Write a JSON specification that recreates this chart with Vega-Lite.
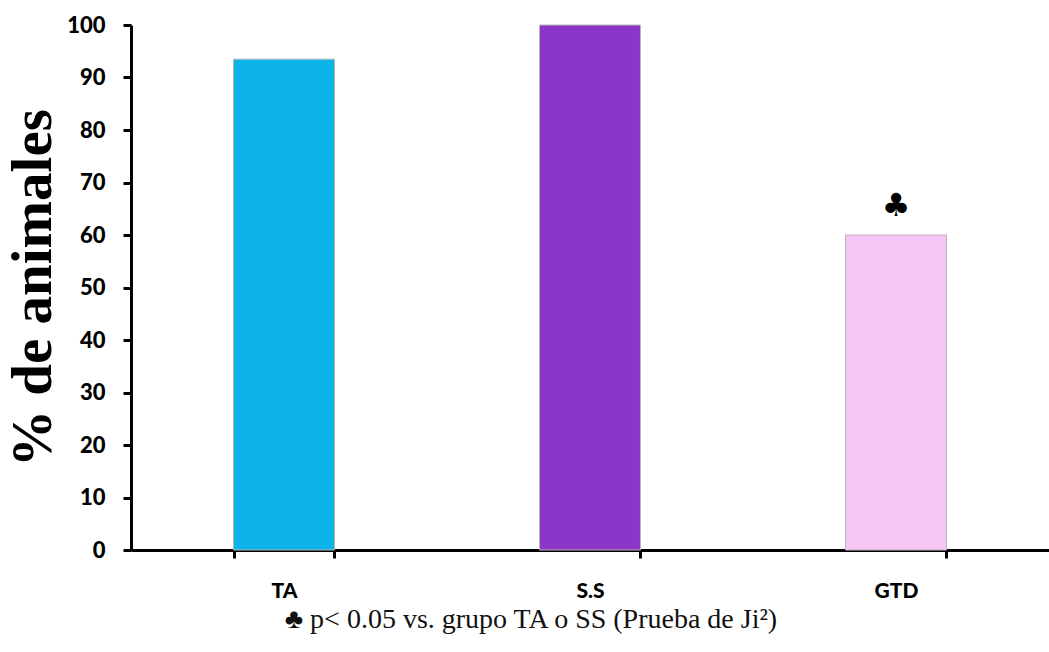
{
  "$schema": "https://vega.github.io/schema/vega-lite/v6.json",
  "width": 918,
  "height": 525,
  "autosize": {"type": "none"},
  "padding": {"left": 131, "top": 25, "right": 0, "bottom": 102},
  "background": "white",
  "config": {"view": {"stroke": null}},
  "title": {
    "text": "♣ p< 0.05 vs. grupo TA o SS (Prueba de Ji²)",
    "orient": "bottom",
    "anchor": "start",
    "offset": 5,
    "dx": 280,
    "font": "Liberation Serif",
    "fontSize": 28,
    "fontWeight": "normal",
    "color": "#111"
  },
  "data": {
    "values": [
      {"grupo": "TA", "pct": 93.5, "sig": ""},
      {"grupo": "S.S", "pct": 100, "sig": ""},
      {"grupo": "GTD", "pct": 60, "sig": "♣"}
    ]
  },
  "encoding": {
    "x": {
      "field": "grupo",
      "type": "nominal",
      "sort": ["TA", "S.S", "GTD"],
      "scale": {"paddingInner": 0.67, "paddingOuter": 0.335},
      "axis": {
        "title": null,
        "labelAngle": 0,
        "labelFont": "Lato",
        "labelFontWeight": 900,
        "labelFontSize": 21,
        "labelColor": "black",
        "labelPadding": 22,
        "domainColor": "black",
        "domainWidth": 3,
        "tickColor": "black",
        "tickWidth": 3,
        "tickSize": 8,
        "tickBand": "extent"
      }
    }
  },
  "layer": [
    {
      "mark": {"type": "bar", "stroke": "#b8b8b8", "strokeWidth": 1},
      "encoding": {
        "y": {
          "field": "pct",
          "type": "quantitative",
          "scale": {"domain": [0, 100]},
          "axis": {
            "title": "% de animales",
            "titleFont": "Liberation Serif",
            "titleFontSize": 57,
            "titleFontWeight": "bold",
            "titleColor": "black",
            "titlePadding": 4,
            "values": [0, 10, 20, 30, 40, 50, 60, 70, 80, 90, 100],
            "labelFont": "Lato",
            "labelFontWeight": 900,
            "labelFontSize": 22,
            "labelColor": "black",
            "labelPadding": 18,
            "domainColor": "black",
            "domainWidth": 3,
            "tickColor": "black",
            "tickWidth": 3,
            "tickSize": 8,
            "grid": false
          }
        },
        "color": {
          "field": "grupo",
          "type": "nominal",
          "scale": {"domain": ["TA", "S.S", "GTD"], "range": ["#0db4ea", "#8b36c9", "#f8c6f6"]},
          "legend": null
        }
      }
    },
    {
      "mark": {"type": "text", "baseline": "bottom", "dy": -12, "fontSize": 32, "font": "DejaVu Sans", "color": "black"},
      "encoding": {
        "y": {"field": "pct", "type": "quantitative"},
        "text": {"field": "sig"}
      }
    }
  ]
}
